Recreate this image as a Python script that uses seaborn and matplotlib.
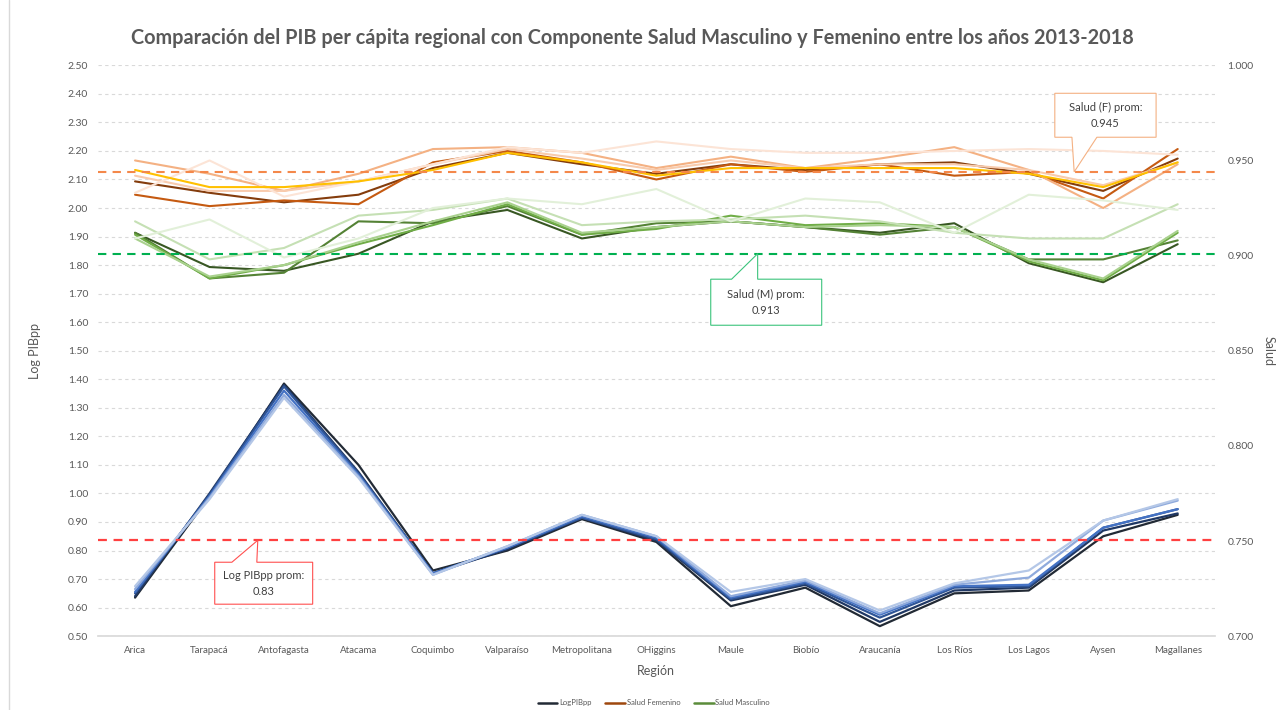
import matplotlib.pyplot as plt
import numpy as np
import pandas as pd
import seaborn as sns
from matplotlib.lines import Line2D
from matplotlib.patches import Polygon

# ----------------------------------------------------------------------------- #
regiones = ['Arica', 'Tarapacá', 'Antofagasta', 'Atacama', 'Coquimbo', 'Valparaíso',
            'Metropolitana', 'OHiggins', 'Maule', 'Biobío', 'Araucanía', 'Los Ríos',
            'Los Lagos', 'Aysen', 'Magallanes']
anios = ['2013', '2014', '2015', '2016', '2017', '2018']

log_pibpp = [
    [0.635, 0.99, 1.385, 1.10, 0.73, 0.80, 0.91, 0.83, 0.605, 0.67, 0.535, 0.65, 0.66, 0.85, 0.925],
    [0.64, 1.00, 1.38, 1.075, 0.72, 0.805, 0.915, 0.835, 0.625, 0.68, 0.55, 0.66, 0.67, 0.87, 0.93],
    [0.65, 0.995, 1.375, 1.07, 0.72, 0.81, 0.915, 0.84, 0.63, 0.685, 0.565, 0.67, 0.675, 0.88, 0.945],
    [0.655, 0.99, 1.36, 1.065, 0.72, 0.81, 0.92, 0.845, 0.635, 0.69, 0.575, 0.675, 0.68, 0.88, 0.945],
    [0.665, 0.985, 1.345, 1.06, 0.715, 0.815, 0.925, 0.85, 0.64, 0.695, 0.58, 0.68, 0.705, 0.905, 0.975],
    [0.675, 0.98, 1.335, 1.055, 0.715, 0.815, 0.925, 0.85, 0.655, 0.70, 0.59, 0.685, 0.73, 0.905, 0.98],
]

salud_fem = [
    [0.939, 0.933, 0.928, 0.932, 0.946, 0.954, 0.948, 0.943, 0.948, 0.945, 0.948, 0.949, 0.943, 0.934, 0.951],
    [0.932, 0.926, 0.929, 0.927, 0.949, 0.955, 0.949, 0.940, 0.948, 0.944, 0.948, 0.942, 0.944, 0.930, 0.956],
    [0.950, 0.943, 0.934, 0.943, 0.956, 0.957, 0.954, 0.946, 0.952, 0.946, 0.951, 0.957, 0.945, 0.925, 0.948],
    [0.942, 0.934, 0.934, 0.939, 0.948, 0.956, 0.951, 0.945, 0.950, 0.946, 0.948, 0.948, 0.945, 0.937, 0.949],
    [0.933, 0.950, 0.931, 0.939, 0.948, 0.957, 0.954, 0.960, 0.956, 0.954, 0.954, 0.955, 0.956, 0.955, 0.953],
    [0.945, 0.936, 0.936, 0.939, 0.945, 0.954, 0.949, 0.942, 0.946, 0.946, 0.946, 0.946, 0.943, 0.936, 0.949],
]

salud_masc = [
    [0.912, 0.894, 0.892, 0.901, 0.918, 0.924, 0.909, 0.915, 0.918, 0.915, 0.912, 0.917, 0.896, 0.886, 0.906],
    [0.912, 0.888, 0.891, 0.918, 0.917, 0.926, 0.911, 0.917, 0.918, 0.915, 0.911, 0.915, 0.898, 0.898, 0.908],
    [0.911, 0.888, 0.895, 0.906, 0.916, 0.927, 0.911, 0.914, 0.921, 0.916, 0.917, 0.915, 0.897, 0.887, 0.912],
    [0.909, 0.889, 0.895, 0.907, 0.918, 0.928, 0.912, 0.915, 0.918, 0.915, 0.916, 0.915, 0.898, 0.888, 0.913],
    [0.918, 0.898, 0.904, 0.921, 0.924, 0.930, 0.916, 0.918, 0.919, 0.921, 0.918, 0.912, 0.909, 0.909, 0.927],
    [0.909, 0.919, 0.899, 0.909, 0.925, 0.930, 0.927, 0.935, 0.918, 0.930, 0.928, 0.912, 0.932, 0.929, 0.924],
]

prom_log_pibpp = 0.836
prom_salud_fem = 0.944
prom_salud_masc = 0.901

colores_pib = ['#222A35', '#203864', '#2F5597', '#4472C4', '#8FAADC', '#B4C7E7']
colores_fem = ['#843C0C', '#C55A11', '#F4B183', '#F8CBAD', '#FCE4D6', '#FFC000']
colores_masc = ['#385723', '#548235', '#70AD47', '#A9D18E', '#C5E0B4', '#E2F0D9']
gris = '#595959'


# ----------------------------------------------------------------------------- #
def to_long(series, name):
    rows = []
    for anio, valores in zip(anios, series):
        for region, v in zip(regiones, valores):
            rows.append({'Región': region, 'Año': anio, name: v})
    return pd.DataFrame(rows)


def callout(ax, lineas, apex, base, caja, color):
    x0, x1, y0, y1 = caja
    xa, xb = base
    if apex[1] > y1:
        verts = [(x0, y0), (x1, y0), (x1, y1), (xb, y1), apex, (xa, y1), (x0, y1)]
    else:
        verts = [(x0, y1), (x0, y0), (xa, y0), apex, (xb, y0), (x1, y0), (x1, y1)]
    ax.add_patch(Polygon(verts, closed=True, facecolor='white', edgecolor=color,
                         linewidth=0.8, zorder=6))
    ax.text((x0 + x1) / 2, (y0 + y1) / 2, lineas, ha='center', va='center',
            fontsize=8, color='#404040', linespacing=1.6, zorder=7)


df_pib = to_long(log_pibpp, 'LogPIBpp')
df_fem = to_long(salud_fem, 'Salud')
df_masc = to_long(salud_masc, 'Salud')

sns.set_theme(style='white')
plt.rcParams['font.family'] = ['Lato', 'DejaVu Sans']

fig, ax = plt.subplots(figsize=(12.87, 7.10), dpi=100)
fig.subplots_adjust(left=0.076, right=0.944, top=0.908, bottom=0.104)
ax2 = ax.twinx()

sns.lineplot(data=df_pib, x='Región', y='LogPIBpp', hue='Año', palette=colores_pib,
             ax=ax, legend=False, linewidth=1.6, sort=False)
sns.lineplot(data=df_fem, x='Región', y='Salud', hue='Año', palette=colores_fem,
             ax=ax2, legend=False, linewidth=1.5, sort=False)
sns.lineplot(data=df_masc, x='Región', y='Salud', hue='Año', palette=colores_masc,
             ax=ax2, legend=False, linewidth=1.5, sort=False)

ax.axhline(prom_log_pibpp, color='#FF4040', linestyle=(0, (4, 3)), linewidth=1.6, zorder=3)
ax2.axhline(prom_salud_fem, color='#F4884A', linestyle=(0, (4, 3)), linewidth=1.5)
ax2.axhline(prom_salud_masc, color='#00B050', linestyle=(0, (4, 3)), linewidth=1.5)

# axes
ax.set_xlim(-0.5, len(regiones) - 0.5)
ax.set_ylim(0.5, 2.5)
ax.set_yticks(np.arange(0.5, 2.501, 0.1))
ax.yaxis.set_major_formatter(plt.FormatStrFormatter('%.2f'))
ax2.set_ylim(0.7, 1.0)
ax2.set_yticks(np.arange(0.7, 1.0001, 0.05))
ax2.yaxis.set_major_formatter(plt.FormatStrFormatter('%.3f'))

ax.yaxis.grid(True, color='#D9D9D9', linestyle=(0, (3, 3)), linewidth=0.8)
ax.set_axisbelow(True)
for a in (ax, ax2):
    for s in a.spines.values():
        s.set_visible(False)
ax.spines['bottom'].set_visible(True)
ax.spines['bottom'].set_color('#D9D9D9')

ax.tick_params(axis='y', length=0, labelsize=7.5, labelcolor=gris, pad=7)
ax.tick_params(axis='x', length=0, labelsize=7, labelcolor=gris, pad=7)
ax2.tick_params(axis='y', length=0, labelsize=7.5, labelcolor=gris, pad=9)

ax.set_xlabel('Región', fontsize=9, color=gris)
ax.set_ylabel('Log PIBpp', fontsize=9, color=gris)
ax2.set_ylabel('Salud', fontsize=9, color=gris, rotation=270)
ax.xaxis.set_label_coords(0.5, -0.051)
ax.yaxis.set_label_coords(-0.051, 0.5)
ax2.yaxis.set_label_coords(1.053, 0.5)

# callouts
callout(ax, 'Log PIBpp prom:\n0.83', (1.648, prom_log_pibpp), (1.30, 1.635),
        (1.07, 2.385, 0.612, 0.759), '#FF5050')
callout(ax2, 'Salud (M) prom:\n0.913', (8.36, prom_salud_masc), (8.01, 8.36),
        (7.73, 9.22, 0.8634, 0.8876), '#3CC47C')
callout(ax2, 'Salud (F) prom:\n0.945', (12.61, prom_salud_fem), (12.58, 12.915),
        (12.35, 13.71, 0.9622, 0.9853), '#F4B183')

fig.text(0.491, 0.946, 'Comparación del PIB per cápita regional con Componente Salud Masculino y '
         'Femenino entre los años 2013-2018', ha='center', va='center', fontsize=14.3,
         fontweight='bold', color=gris)

handles = [Line2D([], [], color='#222A35', linewidth=1.8),
           Line2D([], [], color='#9E480E', linewidth=1.8),
           Line2D([], [], color='#5B8C3A', linewidth=1.8)]
fig.legend(handles, ['LogPIBpp', 'Salud Femenino', 'Salud Masculino'], loc='center',
           bbox_to_anchor=(0.508, 0.01), ncol=3, fontsize=5.5, frameon=False,
           handlelength=2.6, handletextpad=0.2, columnspacing=1.8, labelcolor=gris)

fig.add_artist(Line2D([0.007, 0.007], [0.0, 1.0], color='#D9D9D9', linewidth=1.0))

plt.savefig('out.png', dpi=100)
plt.close()
